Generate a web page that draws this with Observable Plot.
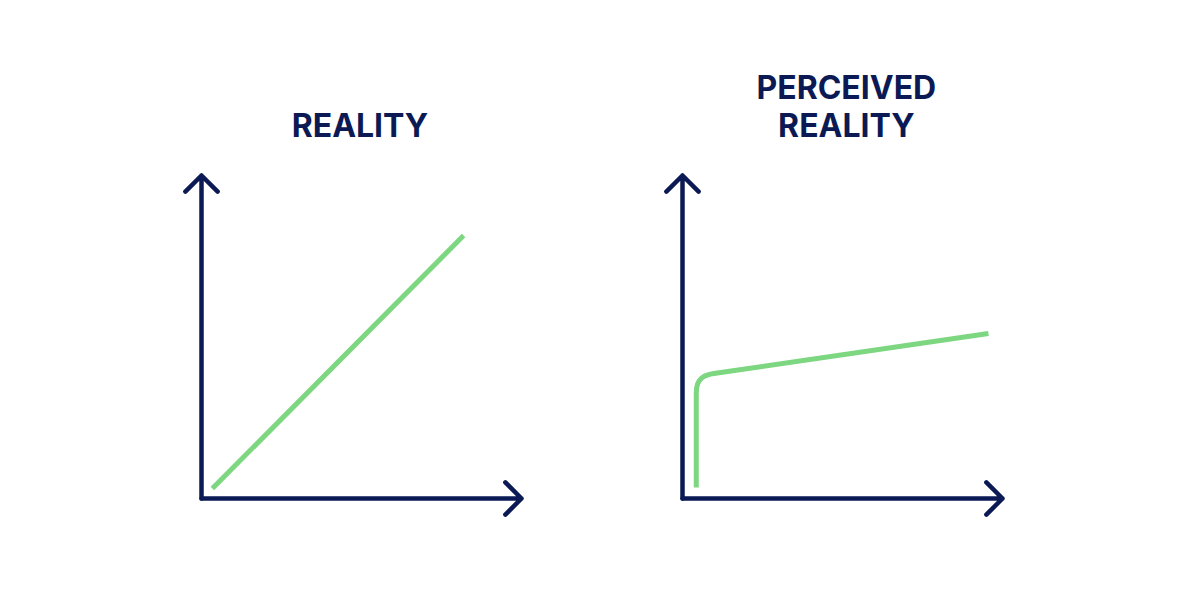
<!DOCTYPE html>
<html>
<head>
<meta charset="utf-8">
<script src="https://cdn.jsdelivr.net/npm/d3@7"></script>
<script src="https://cdn.jsdelivr.net/npm/@observablehq/plot@0.6"></script>
<style>
  html, body { margin: 0; padding: 0; background: #ffffff; }
  #chart { width: 1200px; height: 600px; }
</style>
</head>
<body>
<div id="chart"></div>
<script>
// Panels (facets)
const panels = ["REALITY", "PERCEIVED REALITY"];
const titles = ["REALITY", "PERCEIVED\nREALITY"];

// Axis arrows, in data units (0..10 on both axes)
const axisFrom = [0, 0];
const xAxisTo = [10, 0];
const yAxisTo = [0, 10];

// Reality: straight diagonal line
const realityX = [0.34, 8.19];
const realityY = [0.31, 8.14];

// Perceived reality: steep rise, rounded corner, then a gentle slope
const perceivedX = [0.43, 0.43, 0.44, 0.47, 0.52, 0.59, 0.67, 0.77, 0.87, 0.98, 9.56];
const perceivedY = [0.34, 3.25, 3.42, 3.54, 3.64, 3.72, 3.78, 3.82, 3.85, 3.87, 5.11];

// Title positions (data units)
const titleX = [4.95, 5.12];
const titleY = [11.18, 11.18];

const navy = "#0b1a54";
const green = "#7dd680";

const axes = panels.flatMap(p => [
  {panel: p, x1: axisFrom[0], y1: axisFrom[1], x2: xAxisTo[0], y2: xAxisTo[1]},
  {panel: p, x1: axisFrom[0], y1: axisFrom[1], x2: yAxisTo[0], y2: yAxisTo[1]}
]);
const lineData = [
  ...realityX.map((x, i) => ({panel: panels[0], x, y: realityY[i]})),
  ...perceivedX.map((x, i) => ({panel: panels[1], x, y: perceivedY[i]}))
];
const titleData = panels.map((p, i) => ({panel: p, text: titles[i], x: titleX[i], y: titleY[i]}));

const chart = Plot.plot({
  width: 1200,
  height: 600,
  marginLeft: 200,
  marginRight: 197,
  marginTop: 175,
  marginBottom: 102,
  facet: {marginTop: 0, marginBottom: 0, marginLeft: 0, marginRight: 0},
  fx: {domain: panels, padding: 0.334, axis: null},
  x: {domain: [0, 10], axis: null},
  y: {domain: [0, 10], axis: null},
  style: {background: "white"},
  marks: [
    Plot.arrow(axes, {
      fx: "panel", x1: "x1", y1: "y1", x2: "x2", y2: "y2",
      stroke: navy, strokeWidth: 4.5, headAngle: 90, headLength: 7.6,
      strokeLinecap: "round", strokeLinejoin: "round"
    }),
    Plot.line(lineData, {
      fx: "panel", x: "x", y: "y", z: "panel",
      stroke: green, strokeWidth: 5, curve: "linear",
      strokeLinecap: "butt", strokeLinejoin: "round"
    }),
    Plot.text(titleData, {
      fx: "panel", x: "x", y: "y", text: "text",
      lineAnchor: "bottom", lineHeight: 1.2,
      fontSize: 32, fontWeight: 700, fill: navy,
      fontFamily: "Inter, 'Noto Sans', sans-serif"
    })
  ]
});
document.getElementById("chart").appendChild(chart);
</script>
</body>
</html>
